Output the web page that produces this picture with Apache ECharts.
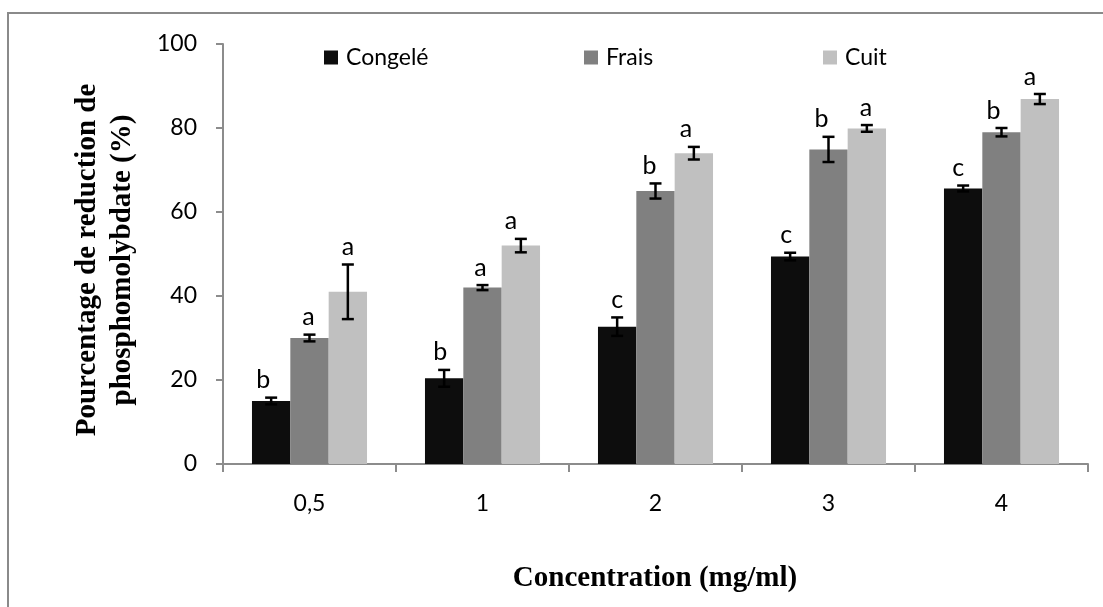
<!DOCTYPE html>
<html>
<head>
<meta charset="utf-8">
<script src="https://cdn.jsdelivr.net/npm/echarts@6/dist/echarts.min.js"></script>
<style>
  html, body { margin: 0; padding: 0; background: #ffffff; }
  #chart { width: 1103px; height: 607px; }
</style>
</head>
<body>
<div id="chart"></div>
<script>
// Concentrations (mg/ml)
const categories = ['0,5', '1', '2', '3', '4'];
const seriesNames = ['Congelé', 'Frais', 'Cuit'];

// Mean reduction (%) per concentration
const congeleValues = [15.0, 20.4, 32.7, 49.4, 65.6];
const fraisValues   = [30.0, 42.0, 65.0, 74.9, 79.0];
const cuitValues    = [41.0, 52.0, 74.0, 79.9, 86.9];

// Standard deviations
const congeleErrors = [0.8, 2.0, 2.2, 0.9, 0.7];
const fraisErrors   = [0.8, 0.6, 1.8, 3.0, 1.0];
const cuitErrors    = [6.5, 1.6, 1.5, 0.8, 1.2];

// Significance letters
const congeleLetters = ['b', 'b', 'c', 'c', 'c'];
const fraisLetters   = ['a', 'a', 'b', 'b', 'b'];
const cuitLetters    = ['a', 'a', 'a', 'a', 'a'];

const yTicks = [0, 20, 40, 60, 80, 100];

// Horizontal nudges (px) of the hand-placed significance letters
const letterNudge = [
  [-8, -4, 0, -4, -5],
  [-1, -2, -6, -7, -8],
  [0, -10, -8, -1, -10]
];

const colors = ['#0d0d0d', '#808080', '#c0c0c0'];
const CAT_GAP = 0.335;
const tickFont = 'Lato, "Open Sans", sans-serif';
const titleFont = '"Liberation Serif", "DejaVu Serif", serif';

const valueSets = [congeleValues, fraisValues, cuitValues];
const errorSets = [congeleErrors, fraisErrors, cuitErrors];
const letterSets = [congeleLetters, fraisLetters, cuitLetters];

function errorSeries(k) {
  const data = categories.map((c, i) => [i, valueSets[k][i], errorSets[k][i]]);
  return {
    type: 'custom',
    name: seriesNames[k] + ' SD',
    z: 5,
    silent: true,
    data: data,
    encode: { x: 0, y: 1 },
    renderItem: function (params, api) {
      const i = api.value(0);
      const v = api.value(1);
      const e = api.value(2);
      const letter = letterSets[k][params.dataIndex];
      const nudge = letterNudge[k][params.dataIndex];
      const catW = api.size([1, 0])[0];
      const barW = catW * (1 - CAT_GAP) / 3;
      const cx = api.coord([i, v])[0] + (k - 1) * barW;
      const yTop = api.coord([i, v + e])[1];
      const yBot = api.coord([i, v - e])[1];
      const cap = 6;
      const st = { stroke: '#000', lineWidth: 2.5 };
      return {
        type: 'group',
        children: [
          { type: 'line', shape: { x1: cx, y1: yTop, x2: cx, y2: yBot }, style: st },
          { type: 'line', shape: { x1: cx - cap, y1: yTop, x2: cx + cap, y2: yTop }, style: st },
          { type: 'line', shape: { x1: cx - cap, y1: yBot, x2: cx + cap, y2: yBot }, style: st },
          {
            type: 'text',
            x: cx + nudge, y: yTop - 5,
            style: {
              text: letter, fill: '#000',
              font: '25px ' + tickFont,
              align: 'center', verticalAlign: 'bottom'
            }
          }
        ]
      };
    }
  };
}

const legendX = [324, 584, 823];

const chart = echarts.init(document.getElementById('chart'), null, { renderer: 'canvas' });

chart.setOption({
  animation: false,
  backgroundColor: '#ffffff',
  grid: { left: 223, right: 15, top: 44, bottom: 143 },
  legend: seriesNames.map((n, k) => ({
    data: [n],
    left: legendX[k],
    top: 46,
    icon: 'rect',
    itemWidth: 14,
    itemHeight: 14,
    padding: 0,
    selectedMode: false,
    textStyle: { fontFamily: tickFont, fontSize: 23, color: '#000', padding: [0, 0, 0, 3] }
  })),
  xAxis: {
    type: 'category',
    data: categories,
    axisLine: { lineStyle: { color: '#8c8c8c', width: 2 } },
    axisTick: { show: true, inside: false, length: 8, alignWithLabel: false, lineStyle: { color: '#8c8c8c', width: 2 } },
    axisLabel: { fontFamily: tickFont, fontSize: 23, color: '#000', margin: 28 },
    splitLine: { show: false }
  },
  yAxis: {
    type: 'value',
    min: yTicks[0],
    max: yTicks[yTicks.length - 1],
    interval: yTicks[1] - yTicks[0],
    axisLine: { show: true, lineStyle: { color: '#8c8c8c', width: 2 } },
    axisTick: { show: true, inside: false, length: 7, lineStyle: { color: '#8c8c8c', width: 2 } },
    axisLabel: { fontFamily: tickFont, fontSize: 23, color: '#000', margin: 26 },
    splitLine: { show: false }
  },
  series: [
    ...seriesNames.map((n, k) => ({
      type: 'bar',
      name: n,
      data: valueSets[k],
      itemStyle: { color: colors[k] },
      barGap: '0%',
      barCategoryGap: (CAT_GAP * 100) + '%',
      silent: true
    })),
    errorSeries(0), errorSeries(1), errorSeries(2)
  ],
  graphic: [
    {
      type: 'rect',
      silent: true,
      shape: { x: 8, y: 13, width: 1200, height: 700 },
      style: { fill: 'none', stroke: '#8a8a8a', lineWidth: 2 }
    },
    {
      type: 'text',
      x: 105, y: 260,
      rotation: Math.PI / 2,
      style: {
        text: 'Pourcentage de reduction de\nphosphomolybdate (%)',
        font: 'bold 29px ' + titleFont,
        lineHeight: 35,
        fill: '#000',
        align: 'center', verticalAlign: 'middle'
      }
    },
    {
      type: 'text',
      x: 655, y: 579,
      style: {
        text: 'Concentration (mg/ml)',
        font: 'bold 29px ' + titleFont,
        fill: '#000',
        align: 'center', verticalAlign: 'middle'
      }
    }
  ]
});
</script>
</body>
</html>
